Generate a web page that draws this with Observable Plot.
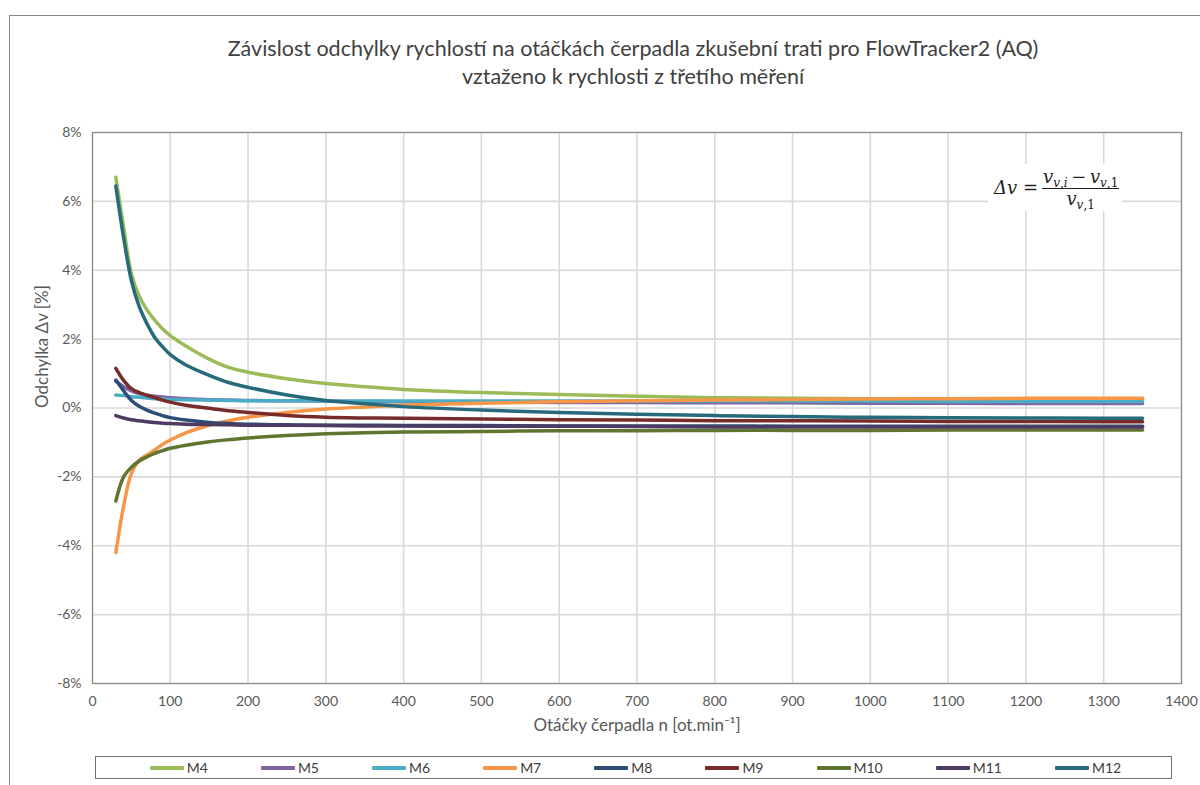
<!DOCTYPE html>
<html>
<head>
<meta charset="utf-8">
<script src="https://cdn.jsdelivr.net/npm/d3@7"></script>
<script src="https://cdn.jsdelivr.net/npm/@observablehq/plot@0.6"></script>
<style>
  body { margin: 0; background: #fff; }
  #wrap { position: relative; width: 1200px; height: 785px; overflow: hidden; background: #fff;
          font-family: Lato, "Open Sans", sans-serif; color: #404040; }
  #border { position: absolute; left: 9px; top: 15px; width: 1300px; height: 900px; border: 1px solid #868686; box-sizing: border-box; }
  .title { position: absolute; left: 0; width: 1266px; text-align: center; font-size: 21.5px; color: #404040; line-height: 26px; }
  #chart { position: absolute; left: 0; top: 0; }
  #formula { position: absolute; left: 988px; top: 164px; width: 134px; height: 47px; background: #fff;
             display: flex; align-items: center; font-family: "DejaVu Serif", "Liberation Serif", serif; font-size: 18px; color: #222; }
  #formula .lhs { margin-left: 6px; margin-right: 4px; white-space: nowrap; }
  #formula .frac { display: inline-flex; flex-direction: column; align-items: center; margin-top: 2px; }
  #formula .num { border-bottom: 1px solid #222; padding: 0 1px 2px 1px; white-space: nowrap; line-height: 18px; }
  #formula .den { line-height: 20px; white-space: nowrap; }
  #formula sub { font-size: 12px; vertical-align: -4px; line-height: 0; }
  #legend { position: absolute; left: 95px; top: 756px; width: 1077px; height: 23px; box-sizing: border-box;
            border: 1px solid #6f6f6f; display: flex; justify-content: center; align-items: center; gap: 53px;
            font-size: 14px; color: #404040; padding-left: 4px; }
  .item { display: flex; align-items: center; white-space: nowrap; }
  .sw { width: 34px; height: 4px; margin-right: 3px; border-radius: 1px; }
</style>
</head>
<body>
<div id="wrap">
  <div id="border"></div>
  <div class="title" style="top:35px">Závislost odchylky rychlostí na otáčkách čerpadla zkušební trati pro FlowTracker2 (AQ)</div>
  <div class="title" style="top:63px">vztaženo k rychlosti z třetího měření</div>
  <div id="chart"></div>
  <div id="formula">
    <span class="lhs"><i>Δv</i> =</span>
    <span class="frac">
      <span class="num"><i>v</i><sub><i>v</i>,<i>i</i></sub>&thinsp;−&thinsp;<i>v</i><sub><i>v</i>,1</sub></span>
      <span class="den"><i>v</i><sub><i>v</i>,1</sub></span>
    </span>
  </div>
  <div id="legend"></div>
</div>
<script>
// Pump speed n [ot.min-1]
const rpm = [30, 40, 50, 60, 70, 80, 90, 100, 120, 150, 175, 200, 250, 300, 350, 400, 500, 600, 700, 800, 900, 1000, 1100, 1200, 1300, 1350];

// Deviation Δv [%] for each measurement series
const M4  = [6.7, 5.25, 3.9, 3.25, 2.85, 2.55, 2.3, 2.1, 1.8, 1.42, 1.18, 1.04, 0.85, 0.71, 0.62, 0.54, 0.45, 0.39, 0.34, 0.3, 0.28, 0.27, 0.26, 0.25, 0.25, 0.25];
const M5  = [0.78, 0.62, 0.5, 0.42, 0.37, 0.34, 0.32, 0.3, 0.27, 0.24, 0.23, 0.22, 0.21, 0.2, 0.19, 0.18, 0.17, 0.16, 0.16, 0.15, 0.15, 0.14, 0.14, 0.13, 0.13, 0.13];
const M6  = [0.38, 0.36, 0.33, 0.31, 0.29, 0.27, 0.26, 0.25, 0.24, 0.23, 0.22, 0.21, 0.21, 0.2, 0.2, 0.2, 0.2, 0.2, 0.2, 0.2, 0.2, 0.2, 0.19, 0.19, 0.19, 0.19];
const M7  = [-4.2, -2.85, -1.9, -1.52, -1.36, -1.22, -1.06, -0.93, -0.72, -0.5, -0.37, -0.27, -0.13, -0.03, 0.03, 0.08, 0.14, 0.18, 0.21, 0.23, 0.25, 0.26, 0.27, 0.28, 0.28, 0.28];
const M8  = [0.81, 0.5, 0.22, 0.05, -0.06, -0.15, -0.22, -0.28, -0.35, -0.42, -0.45, -0.47, -0.49, -0.5, -0.5, -0.51, -0.51, -0.52, -0.52, -0.52, -0.53, -0.53, -0.53, -0.53, -0.53, -0.53];
const M9  = [1.15, 0.8, 0.56, 0.45, 0.37, 0.3, 0.23, 0.17, 0.08, -0.01, -0.08, -0.13, -0.22, -0.27, -0.29, -0.3, -0.32, -0.34, -0.35, -0.37, -0.37, -0.38, -0.39, -0.39, -0.4, -0.4];
const M10 = [-2.7, -2.0, -1.72, -1.54, -1.42, -1.32, -1.24, -1.17, -1.08, -0.98, -0.92, -0.87, -0.8, -0.75, -0.72, -0.7, -0.68, -0.66, -0.66, -0.65, -0.65, -0.65, -0.64, -0.64, -0.64, -0.64];
const M11 = [-0.22, -0.29, -0.34, -0.37, -0.4, -0.42, -0.44, -0.45, -0.47, -0.48, -0.49, -0.5, -0.5, -0.51, -0.52, -0.52, -0.53, -0.53, -0.54, -0.55, -0.55, -0.55, -0.55, -0.55, -0.55, -0.55];
const M12 = [6.45, 4.95, 3.7, 2.95, 2.45, 2.05, 1.78, 1.55, 1.25, 0.95, 0.74, 0.6, 0.38, 0.22, 0.12, 0.04, -0.06, -0.13, -0.18, -0.22, -0.25, -0.27, -0.28, -0.29, -0.3, -0.3];

const seriesNames = ["M4", "M5", "M6", "M7", "M8", "M9", "M10", "M11", "M12"];
const seriesValues = [M4, M5, M6, M7, M8, M9, M10, M11, M12];
const seriesColors = ["#9bbb59", "#8064a2", "#4bacc6", "#f79646", "#2c4d75", "#772c2a", "#5f7530", "#4d3b62", "#276a7c"];

const xTicks = [0, 100, 200, 300, 400, 500, 600, 700, 800, 900, 1000, 1100, 1200, 1300, 1400];
const yTicks = [-8, -6, -4, -2, 0, 2, 4, 6, 8];
const xLabel = "Otáčky čerpadla n [ot.min⁻¹]";
const yLabel = "Odchylka Δv [%]";

const table = [];
seriesNames.forEach((name, s) => {
  rpm.forEach((n, i) => table.push({series: name, n, dv: seriesValues[s][i]}));
});

const chart = Plot.plot({
  width: 1200,
  height: 785,
  marginLeft: 92,
  marginRight: 19,
  marginTop: 132,
  marginBottom: 102,
  style: {fontFamily: "Lato, 'Open Sans', sans-serif", fontSize: "14px", color: "#595959", background: "transparent"},
  x: {domain: [0, 1400]},
  y: {domain: [-8, 8]},
  color: {domain: seriesNames, range: seriesColors},
  marks: [
    Plot.gridX(xTicks, {stroke: "#d9d9d9", strokeOpacity: 1, strokeWidth: 1.6}),
    Plot.gridY(yTicks, {stroke: "#d9d9d9", strokeOpacity: 1, strokeWidth: 1.6}),
    Plot.frame({stroke: "#8a8a8a", strokeWidth: 1.2}),
    Plot.axisX(xTicks, {tickSize: 0, tickPadding: 13, label: null, tickFormat: d => String(d), fontSize: 14, fill: "#595959"}),
    Plot.axisY(yTicks, {tickSize: 0, tickPadding: 11, label: null, tickFormat: d => d + "%", fontSize: 14, fill: "#595959"}),
    Plot.lineY(table, {x: "n", y: "dv", z: "series", stroke: "series", strokeWidth: 3.5, curve: "catmull-rom", strokeLinejoin: "round"}),
    Plot.text([yLabel], {text: d => d, frameAnchor: "left", dx: -50, rotate: -90, fontSize: 17, fill: "#595959"}),
    Plot.text([xLabel], {text: d => d, frameAnchor: "bottom", dy: 47, fontSize: 17, fill: "#595959"})
  ]
});
document.getElementById("chart").appendChild(chart);

const legend = document.getElementById("legend");
seriesNames.forEach((name, i) => {
  const item = document.createElement("div");
  item.className = "item";
  const sw = document.createElement("div");
  sw.className = "sw";
  sw.style.background = seriesColors[i];
  const lab = document.createElement("span");
  lab.textContent = name;
  item.appendChild(sw);
  item.appendChild(lab);
  legend.appendChild(item);
});
</script>
</body>
</html>
